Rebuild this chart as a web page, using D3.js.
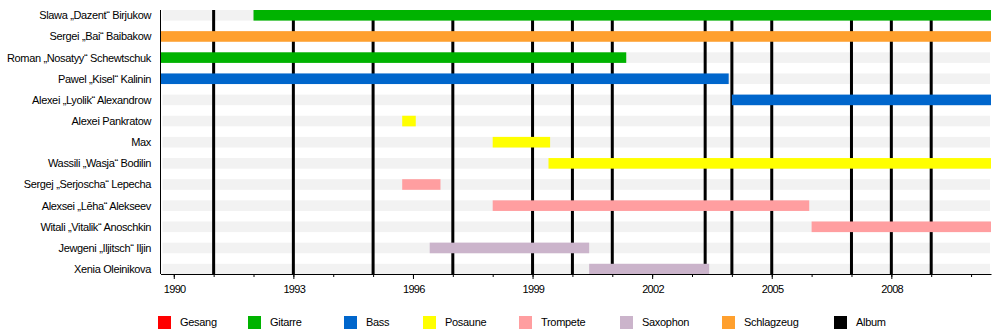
<!DOCTYPE html>
<html>
<head>
<meta charset="utf-8">
<script src="https://cdn.jsdelivr.net/npm/d3@7/dist/d3.min.js"></script>
<style>
  html, body { margin: 0; padding: 0; background: #fff; }
  svg { display: block; }
  text { font-family: "Liberation Sans", Arial, sans-serif; fill: #000; }
</style>
</head>
<body>
<svg id="chart" width="1000" height="334"></svg>
<script>
// Band members (top to bottom)
const members = [
  "Slawa „Dazent“ Birjukow",
  "Sergei „Bai“ Baibakow",
  "Roman „Nosatyy“ Schewtschuk",
  "Pawel „Kisel“ Kalinin",
  "Alexei „Lyolik“ Alexandrow",
  "Alexei Pankratow",
  "Max",
  "Wassili „Wasja“ Bodilin",
  "Sergej „Serjoscha“ Lepecha",
  "Alexsei „Lēha“ Alekseev",
  "Witali „Vitalik“ Anoschkin",
  "Jewgeni „Iljitsch“ Iljin",
  "Xenia Oleinikova"
];

// Timeline period (decimal years)
const periodStart = 1989.667;
const periodEnd = 2010.5;

// Membership spans: member index, instrument, from, till
const spanMember = [0, 1, 2, 3, 4, 5, 6, 7, 8, 9, 10, 11, 12];
const spanInstrument = ["Gitarre", "Schlagzeug", "Gitarre", "Bass", "Bass", "Posaune", "Posaune",
                        "Posaune", "Trompete", "Trompete", "Trompete", "Saxophon", "Saxophon"];
const spanFrom = [1992.0, periodStart, periodStart, periodStart, 2004.0, 1995.73, 1998.0,
                  1999.4, 1995.73, 1998.0, 2006.0, 1996.42, 2000.42];
const spanTill = [periodEnd, periodEnd, 2001.35, 2003.92, periodEnd, 1996.07, 1999.44,
                  periodEnd, 1996.69, 2005.94, periodEnd, 2000.42, 2003.43];

// Album release dates
const albums = [1991.0, 1993.0, 1995.0, 1997.0, 1999.0, 2000.0, 2001.0,
                2003.33, 2004.0, 2005.0, 2007.0, 2008.0, 2009.0];

// Legend entries
const legendNames = ["Gesang", "Gitarre", "Bass", "Posaune", "Trompete", "Saxophon", "Schlagzeug", "Album"];
const legendColors = ["#ff0000", "#00b300", "#0066cc", "#ffff00", "#ff9ea0", "#cbb4cb", "#ffa02e", "#000000"];

// Year ticks
const yearTicks = d3.range(1990, 2011);
const labelTicks = d3.range(1990, 2011, 3);

// ---- layout ----
const svg = d3.select("#chart");
const plotLeft = 160.5, plotRight = 991, plotTop = 10, axisY = 274;
const rowStep = 21.15, barH = 10.6;
const legendX = [158, 248, 344, 423, 519, 620, 722, 834];

const x = d3.scaleLinear().domain([periodStart, periodEnd]).range([plotLeft, plotRight]);
const y = d3.scaleBand().domain(members).range([plotTop, plotTop + rowStep * members.length]).padding(0);
const color = d3.scaleOrdinal().domain(legendNames).range(legendColors);

// row background stripes
svg.append("g").selectAll("rect").data(members).join("rect")
  .attr("x", plotLeft + 2)
  .attr("width", plotRight - plotLeft - 3)
  .attr("y", d => y(d))
  .attr("height", barH)
  .attr("fill", "#f2f2f2");

// album release lines
svg.append("g").selectAll("line").data(albums).join("line")
  .attr("x1", d => x(d)).attr("x2", d => x(d))
  .attr("y1", plotTop).attr("y2", axisY)
  .attr("stroke", color("Album"))
  .attr("stroke-width", 3);

// membership bars
svg.append("g").selectAll("rect").data(spanMember).join("rect")
  .attr("x", (d, i) => x(spanFrom[i]))
  .attr("width", (d, i) => x(spanTill[i]) - x(spanFrom[i]))
  .attr("y", d => y(members[d]))
  .attr("height", barH)
  .attr("fill", (d, i) => color(spanInstrument[i]));

// member names
svg.append("g").selectAll("text").data(members).join("text")
  .attr("x", 151)
  .attr("y", d => y(d) + barH / 2)
  .attr("dy", "0.36em")
  .attr("text-anchor", "end")
  .attr("font-size", 11)
  .attr("letter-spacing", "-0.35px")
  .text(d => d);

// left axis line
svg.append("line")
  .attr("x1", plotLeft).attr("x2", plotLeft)
  .attr("y1", plotTop).attr("y2", axisY)
  .attr("stroke", "#000").attr("stroke-width", 1);

// bottom axis: yearly minor ticks, labelled major ticks every three years
const minorAxis = d3.axisBottom(x).tickValues(yearTicks).tickSize(3).tickSizeOuter(0).tickFormat("");
const gMinor = svg.append("g").attr("transform", `translate(0,${axisY})`).call(minorAxis);
gMinor.select(".domain").attr("stroke-width", 1);

const majorAxis = d3.axisBottom(x).tickValues(labelTicks).tickSize(5).tickSizeOuter(0)
  .tickPadding(6).tickFormat(d3.format("d"));
const gMajor = svg.append("g").attr("transform", `translate(0,${axisY})`).call(majorAxis);
gMajor.select(".domain").remove();
gMajor.selectAll("text")
  .attr("font-size", 11)
  .attr("font-family", "Liberation Sans, Arial, sans-serif")
  .attr("letter-spacing", "-0.7px")
  .attr("dx", "0.35px")
  .attr("fill", "#000");

// legend
const legend = svg.append("g").selectAll("g").data(legendNames).join("g")
  .attr("transform", (d, i) => `translate(${legendX[i]},316)`);
legend.append("rect").attr("width", 13).attr("height", 13).attr("fill", d => color(d));
legend.append("text").attr("x", 22).attr("y", 6.5).attr("dy", "0.36em")
  .attr("font-size", 11)
  .attr("letter-spacing", "-0.3px")
  .text(d => d);
</script>
</body>
</html>
